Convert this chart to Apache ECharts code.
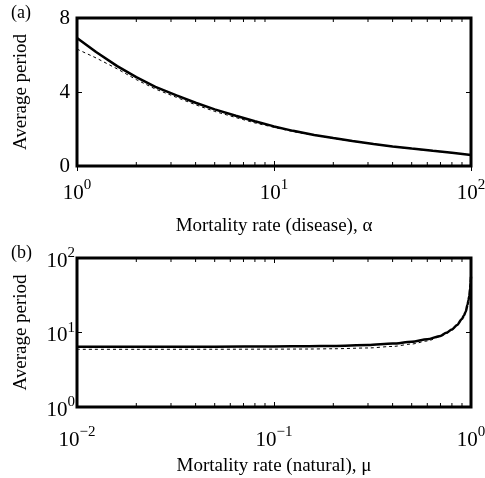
<!DOCTYPE html>
<html>
<head>
<meta charset="utf-8">
<script src="https://cdn.jsdelivr.net/npm/echarts@6/dist/echarts.min.js"></script>
<style>
html, body { margin: 0; padding: 0; background: #fff; }
#chart { width: 485px; height: 478px; }
</style>
</head>
<body>
<div id="chart"></div>
<script>
// panel (a): average period vs disease mortality rate alpha
const alphaVals = [1, 1.25, 1.6, 2, 2.5, 3.2, 4, 5, 6.4, 8, 10, 12.5, 16, 20, 25, 32, 40, 50, 64, 80, 100];
const periodSimA = [6.92, 6.16, 5.40, 4.80, 4.28, 3.82, 3.42, 3.06, 2.72, 2.42, 2.14, 1.90, 1.68, 1.51, 1.35, 1.19, 1.06, 0.94, 0.82, 0.72, 0.6];
const periodApproxA = [6.32, 5.84, 5.25, 4.67, 4.16, 3.71, 3.31, 2.95, 2.62, 2.33, 2.09, 1.86, 1.65, 1.49, 1.34, 1.18, 1.05, 0.93, 0.81, 0.71, 0.6];

// panel (b): average period vs natural mortality rate mu
const muVals = [0.01, 0.02, 0.05, 0.1, 0.15, 0.2, 0.3, 0.4, 0.5, 0.6, 0.7, 0.75, 0.8, 0.85, 0.9, 0.92, 0.94, 0.96, 0.97, 0.98, 0.99, 0.995, 1.0];
const periodSimB = [6.45, 6.45, 6.46, 6.5, 6.55, 6.6, 6.8, 7.1, 7.5, 8.1, 9.0, 9.9, 11.0, 12.6, 15.2, 16.8, 19.0, 23.5, 27, 31, 39, 46, 56];
const periodApproxB = [5.95, 5.95, 5.96, 5.98, 6.0, 6.05, 6.2, 6.5, 7.0, 7.7, 8.8, 9.7, 10.8, 12.4, 15.0, 16.6, 18.8, 23.2, 26.7, 30.5, 40, 55, 150];

const yTicksA = [0, 4, 8];

const FONT = "Liberation Serif";

function pairs(xs, ys) {
	return xs.map((x, i) => [x, ys[i]]);
}

// minor ticks 2..9 inside each decade
function minorTicks(lo, hi) {
	let out = [];
	for (let d = lo; d < hi * 0.999; d *= 10) {
		for (let k = 2; k <= 9; k++) out.push(d * k);
	}
	return out;
}

function powLabel(v) {
	const e = Math.round(Math.log10(v));
	return "{b|10}{e|" + String(e).replace("-", "\u2212") + "}";
}

const powRich = {
	b: { fontSize: 21, lineHeight: 30, fontFamily: FONT, color: "#000" },
	e: { fontSize: 15, lineHeight: 14, verticalAlign: "top", fontFamily: FONT, color: "#000" },
};

function minorTickItem(yRef) {
	return function (params, api) {
		const x = api.coord([api.value(0), yRef])[0];
		const cs = params.coordSys;
		const style = { stroke: "#000", lineWidth: 1 };
		return {
			type: "group",
			children: [
				{ type: "line", shape: { x1: x, y1: cs.y + cs.height, x2: x, y2: cs.y + cs.height - 4 }, style: style },
				{ type: "line", shape: { x1: x, y1: cs.y, x2: x, y2: cs.y + 4 }, style: style },
			],
		};
	};
}

const tickStyle = { show: true, inside: true, length: 5, lineStyle: { color: "#000", width: 1 } };
const nameStyle = { fontSize: 19, fontFamily: FONT, color: "#000" };
const solidLine = { color: "#000", width: 2.5 };
const dashLine = { color: "#000", width: 1, type: [3, 3] };

const chart = echarts.init(document.getElementById("chart"));
const option = {
	animation: false,
	backgroundColor: "#fff",
	title: [
		{ text: "(a)", left: 11, top: 4, padding: 0, textStyle: { fontSize: 18, fontWeight: "normal", fontFamily: FONT, color: "#000" } },
		{ text: "(b)", left: 11, top: 244, padding: 0, textStyle: { fontSize: 18, fontWeight: "normal", fontFamily: FONT, color: "#000" } },
	],
	grid: [
		{ left: 77, top: 18, width: 394, height: 148, show: true, borderColor: "#000", borderWidth: 3, outerBoundsMode: "none" },
		{ left: 77, top: 258, width: 394, height: 149, show: true, borderColor: "#000", borderWidth: 3, outerBoundsMode: "none" },
	],
	xAxis: [
		{
			gridIndex: 0, type: "log", min: 1, max: 100, position: "bottom",
			axisLine: { show: false }, axisTick: tickStyle, splitLine: { show: false },
			axisLabel: { formatter: powLabel, rich: powRich, margin: 12, showMinLabel: true, showMaxLabel: true },
			name: "Mortality rate (disease), \u03b1", nameLocation: "middle", nameGap: 51, nameTextStyle: nameStyle,
		},
		{
			gridIndex: 0, type: "log", min: 1, max: 100, position: "top",
			axisLine: { show: false }, axisTick: tickStyle, splitLine: { show: false }, axisLabel: { show: false },
		},
		{
			gridIndex: 1, type: "log", min: 0.01, max: 1, position: "bottom",
			axisLine: { show: false }, axisTick: tickStyle, splitLine: { show: false },
			axisLabel: { formatter: powLabel, rich: powRich, margin: 18, showMinLabel: true, showMaxLabel: true },
			name: "Mortality rate (natural), \u03bc", nameLocation: "middle", nameGap: 50, nameTextStyle: nameStyle,
		},
		{
			gridIndex: 1, type: "log", min: 0.01, max: 1, position: "top",
			axisLine: { show: false }, axisTick: tickStyle, splitLine: { show: false }, axisLabel: { show: false },
		},
	],
	yAxis: [
		{
			gridIndex: 0, type: "value", min: yTicksA[0], max: yTicksA[yTicksA.length - 1], interval: yTicksA[1] - yTicksA[0],
			position: "left", axisLine: { show: false }, axisTick: tickStyle, splitLine: { show: false },
			axisLabel: { margin: 7, fontSize: 21, fontFamily: FONT, color: "#000", padding: [8, 0, 0, 0] },
			name: "Average period", nameLocation: "middle", nameGap: 46, nameTextStyle: nameStyle,
		},
		{
			gridIndex: 0, type: "value", min: 0, max: 8, interval: 4, position: "right",
			axisLine: { show: false }, axisTick: tickStyle, splitLine: { show: false }, axisLabel: { show: false },
		},
		{
			gridIndex: 1, type: "log", min: 1, max: 100, position: "left",
			axisLine: { show: false }, axisTick: tickStyle, splitLine: { show: false },
			axisLabel: { formatter: powLabel, rich: powRich, margin: 2, padding: [6, 0, 0, 0] },
			name: "Average period", nameLocation: "middle", nameGap: 46, nameTextStyle: nameStyle,
		},
		{
			gridIndex: 1, type: "log", min: 1, max: 100, position: "right",
			axisLine: { show: false }, axisTick: tickStyle, splitLine: { show: false }, axisLabel: { show: false },
		},
	],
	series: [
		{
			type: "line", xAxisIndex: 0, yAxisIndex: 0, data: pairs(alphaVals, periodApproxA),
			symbol: "none", lineStyle: dashLine,
		},
		{
			type: "line", xAxisIndex: 0, yAxisIndex: 0, data: pairs(alphaVals, periodSimA),
			symbol: "none", lineStyle: solidLine,
		},
		{
			type: "line", xAxisIndex: 2, yAxisIndex: 2, data: pairs(muVals, periodApproxB),
			symbol: "none", smooth: 0.3, smoothMonotone: "x", lineStyle: dashLine,
		},
		{
			type: "line", xAxisIndex: 2, yAxisIndex: 2, data: pairs(muVals, periodSimB),
			symbol: "none", smooth: 0.3, smoothMonotone: "x", lineStyle: solidLine,
		},
		{
			type: "custom", xAxisIndex: 0, yAxisIndex: 0, silent: true,
			data: minorTicks(1, 100).map((v) => [v, 4]), renderItem: minorTickItem(4),
		},
		{
			type: "custom", xAxisIndex: 2, yAxisIndex: 2, silent: true,
			data: minorTicks(0.01, 1).map((v) => [v, 10]), renderItem: minorTickItem(10),
		},
	],
};
chart.setOption(option);
</script>
</body>
</html>
